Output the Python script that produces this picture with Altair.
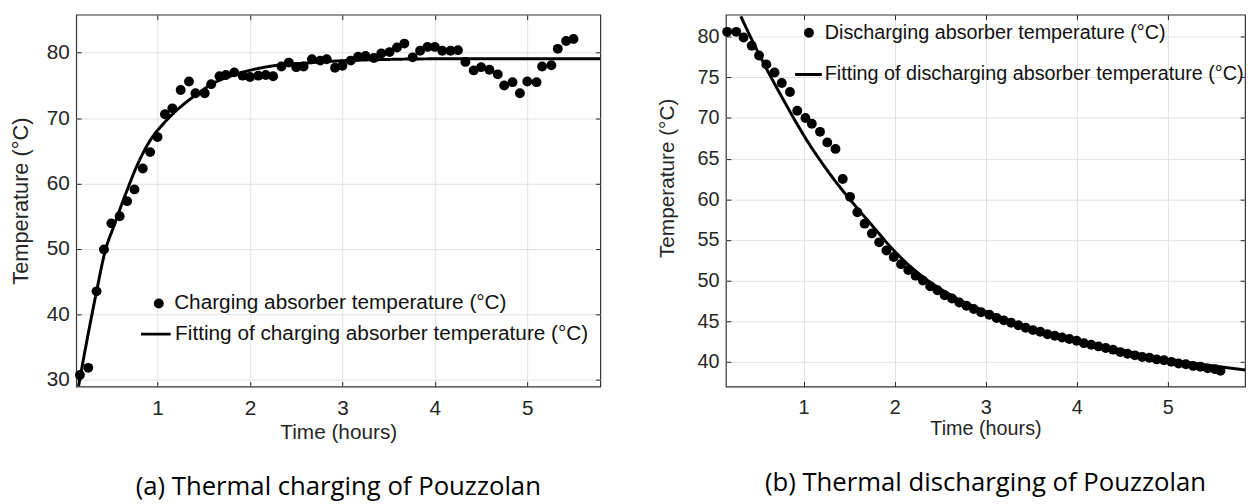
import altair as alt
import pandas as pd

# ---------------- data ----------------
# (a) charging
charge_t = [0.16, 0.25, 0.34, 0.42, 0.50, 0.59, 0.67, 0.75, 0.84, 0.92, 1.00, 1.08, 1.16, 1.25,
            1.34, 1.41, 1.51, 1.58, 1.67, 1.74, 1.83, 1.92, 2.00, 2.09, 2.17, 2.25, 2.34, 2.42,
            2.50, 2.58, 2.67, 2.76, 2.83, 2.92, 3.00, 3.09, 3.17, 3.25, 3.34, 3.42, 3.51, 3.59,
            3.67, 3.76, 3.84, 3.92, 4.00, 4.08, 4.17, 4.25, 4.33, 4.42, 4.50, 4.59, 4.68, 4.75,
            4.84, 4.92, 5.00, 5.10, 5.16, 5.26, 5.33, 5.42, 5.50]
charge_T = [30.7, 31.8, 43.5, 49.9, 53.9, 55.0, 57.3, 59.1, 62.3, 64.8, 67.1, 70.6, 71.5, 74.3,
            75.6, 73.8, 73.8, 75.2, 76.4, 76.6, 77.0, 76.5, 76.3, 76.5, 76.6, 76.4, 77.9, 78.5,
            77.8, 77.9, 79.0, 78.8, 79.0, 77.7, 78.0, 78.8, 79.4, 79.5, 79.2, 79.9, 80.1, 80.8,
            81.4, 79.3, 80.3, 80.9, 80.9, 80.3, 80.3, 80.4, 78.6, 77.3, 77.8, 77.4, 76.7, 75.0,
            75.5, 73.8, 75.6, 75.5, 77.9, 78.1, 80.6, 81.8, 82.1]
charge_fit_t = [0.145, 0.24, 0.34, 0.43, 0.53, 0.66, 0.78, 0.92, 1.06, 1.28, 1.41, 1.60, 1.87,
                2.25, 2.63, 3.02, 3.40, 3.78, 4.50, 5.79]
charge_fit_T = [29.0, 36.3, 43.5, 49.5, 53.6, 58.6, 62.8, 66.6, 69.1, 72.1, 73.5, 75.3, 76.8,
                78.0, 78.45, 78.8, 78.95, 79.05, 79.1, 79.1]

# (b) discharging
dis_t = [0.16, 0.26, 0.34, 0.43, 0.51, 0.59, 0.68, 0.76, 0.85, 0.93, 1.02, 1.09, 1.18, 1.26,
         1.35, 1.43, 1.51, 1.59, 1.67, 1.75, 1.83, 1.91, 1.99, 2.07, 2.15, 2.23, 2.31, 2.39,
         2.47, 2.55, 2.63, 2.71, 2.79, 2.87, 2.95, 3.04, 3.12, 3.20, 3.28, 3.36, 3.44, 3.52,
         3.60, 3.68, 3.76, 3.84, 3.92, 4.00, 4.08, 4.16, 4.24, 4.32, 4.40, 4.48, 4.56, 4.64,
         4.72, 4.80, 4.88, 4.96, 5.04, 5.12, 5.20, 5.28, 5.36, 5.44, 5.52, 5.58]
dis_T = [80.6, 80.6, 79.9, 78.9, 77.7, 76.6, 75.6, 74.3, 73.2, 70.9, 70.0, 69.3, 68.3, 67.0,
         66.2, 62.5, 60.3, 58.4, 57.0, 55.8, 54.7, 53.7, 52.9, 52.0, 51.3, 50.6, 50.0, 49.3,
         48.8, 48.2, 47.8, 47.3, 46.9, 46.5, 46.1, 45.8, 45.4, 45.1, 44.8, 44.5, 44.2, 43.9,
         43.7, 43.4, 43.2, 43.0, 42.8, 42.6, 42.3, 42.1, 41.9, 41.7, 41.5, 41.2, 41.0, 40.8,
         40.6, 40.5, 40.3, 40.2, 40.0, 39.8, 39.7, 39.5, 39.4, 39.2, 39.1, 38.9]
dis_fit_t = [0.31, 0.45, 0.60, 0.75, 0.90, 1.05, 1.20, 1.35, 1.50, 1.75, 2.00, 2.25, 2.50,
             2.75, 3.00, 3.50, 4.00, 4.50, 5.00, 5.50, 5.85]
dis_fit_T = [82.5, 79.2, 75.9, 72.8, 69.8, 67.0, 64.5, 62.2, 60.1, 56.8, 53.6, 51.0, 49.0,
             47.4, 46.2, 44.2, 42.7, 41.4, 40.3, 39.5, 39.0]

x_ticks = [1, 2, 3, 4, 5]
ya_ticks = [30, 40, 50, 60, 70, 80]
yb_ticks = [40, 45, 50, 55, 60, 65, 70, 75, 80]

PT_A = "Charging absorber temperature (°C)"
LN_A = "Fitting of charging absorber temperature (°C)"
PT_B = "Discharging absorber temperature (°C)"
LN_B = "Fitting of discharging absorber temperature (°C)"
CAP_A = "(a) Thermal charging of Pouzzolan"
CAP_B = "(b) Thermal discharging of Pouzzolan"
X_TITLE = "Time (hours)"
Y_TITLE = "Temperature (°C)"

FONT = "Liberation Sans"
TXT = "#262626"
GRID = "#e2e2e2"
PT_SIZE = 100
TICK = 5


def tick_axis(orient, values):
    # tick-only axis pulled inside the frame so that its ticks point inward
    return alt.Axis(orient=orient, values=values, offset=-TICK, tickSize=TICK,
                    tickColor=TXT, tickWidth=1, labels=False, domain=False,
                    grid=False, title=None)


def panel(pt_t, pt_T, fit_t, fit_T, xdom, ydom, yticks, w, h, pt_lab, ln_lab, fs,
          pleg, lleg, line_sym, caption, xt_y, yt_x, yt_y, cap_off):
    pts = pd.DataFrame({"t": pt_t, "T": pt_T, "series": pt_lab})
    fit = pd.DataFrame({"t": fit_t, "T": fit_T, "series": ln_lab})
    xs = alt.Scale(domain=xdom, nice=False, zero=False)
    ys = alt.Scale(domain=ydom, nice=False, zero=False)
    x = alt.X("t:Q", scale=xs,
              axis=alt.Axis(values=x_ticks, title=X_TITLE, grid=True, gridColor=GRID,
                            ticks=False, domain=False, labelFont=FONT, labelFontSize=fs,
                            labelColor=TXT, labelPadding=11, titleFont=FONT,
                            titleFontSize=fs, titleFontWeight="normal", titleColor=TXT,
                            titleY=xt_y, titleBaseline="top", labelFlush=False))
    y = alt.Y("T:Q", scale=ys,
              axis=alt.Axis(values=yticks, title=Y_TITLE, grid=True, gridColor=GRID,
                            ticks=False, domain=False, labelFont=FONT, labelFontSize=fs,
                            labelColor=TXT, labelPadding=7, titleFont=FONT,
                            titleFontSize=fs + 1, titleFontWeight="normal", titleColor=TXT,
                            titleX=yt_x, titleY=yt_y, titleBaseline="top",
                            titleAlign="center", titleAngle=270, labelFlush=False))
    common = dict(orient="none", title=None, labelFont=FONT, labelFontSize=fs,
                  labelColor="#111111", padding=0, labelLimit=0, symbolOpacity=1)
    points = alt.Chart(pts).mark_point(filled=True, color="black", opacity=1,
                                       size=PT_SIZE).encode(
        x=x, y=y,
        shape=alt.Shape("series:N", scale=alt.Scale(domain=[pt_lab], range=["circle"]),
                        legend=alt.Legend(legendX=pleg[0], legendY=pleg[1],
                                          labelOffset=pleg[2], symbolSize=PT_SIZE,
                                          symbolFillColor="black", **common)),
    )
    line = alt.Chart(fit).mark_line(color="black", strokeWidth=3, interpolate="monotone",
                                    clip=True).encode(
        x=alt.X("t:Q", scale=xs, axis=tick_axis("top", x_ticks)),
        y=alt.Y("T:Q", scale=ys, axis=tick_axis("right", yticks)),
        strokeDash=alt.StrokeDash("series:N",
                                  scale=alt.Scale(domain=[ln_lab], range=[[1, 0]]),
                                  legend=alt.Legend(legendX=lleg[0], legendY=lleg[1],
                                                    labelOffset=lleg[2],
                                                    symbolSize=line_sym,
                                                    symbolStrokeWidth=3,
                                                    symbolStrokeColor="black",
                                                    symbolType="stroke", **common)),
    )
    ticks_in = alt.Chart(fit).mark_point(opacity=0).encode(
        x=alt.X("t:Q", scale=xs, axis=tick_axis("bottom", x_ticks)),
        y=alt.Y("T:Q", scale=ys, axis=tick_axis("left", yticks)),
    )
    return alt.layer(points, line, ticks_in).resolve_axis(
        x="independent", y="independent"
    ).properties(
        width=w, height=h,
        title=alt.TitleParams(caption, orient="bottom", anchor="middle", font="Open Sans",
                              fontSize=26, fontWeight="normal", color="black",
                              offset=cap_off),
    )


left = panel(charge_t, charge_T, charge_fit_t, charge_fit_T, [0.12, 5.79], [28.94, 85.82],
             ya_ticks, 530, 376, PT_A, LN_A, 21,
             (73, 281.5, 5), (64, 306.5, 3), 900, CAP_A,
             36, -66, 188, 32)
right = panel(dis_t, dis_T, dis_fit_t, dis_fit_T, [0.146, 5.85], [36.96, 82.71],
              yb_ticks, 525, 376, PT_B, LN_B, 20,
              (74, 8.3, 6), (68, 45, 1), 730, CAP_B,
              33, -70, 165, 32)

chart = alt.hconcat(left, right, spacing=52).resolve_scale(
    shape="independent", strokeDash="independent", x="independent", y="independent"
).resolve_legend(shape="independent", strokeDash="independent").configure(
    padding={"left": 1, "top": 2, "right": 0, "bottom": 0},
    background="white",
).configure_view(stroke="#333333", strokeWidth=1.2)

chart.save("out.html", embed_options={"renderer": "svg", "actions": False})
